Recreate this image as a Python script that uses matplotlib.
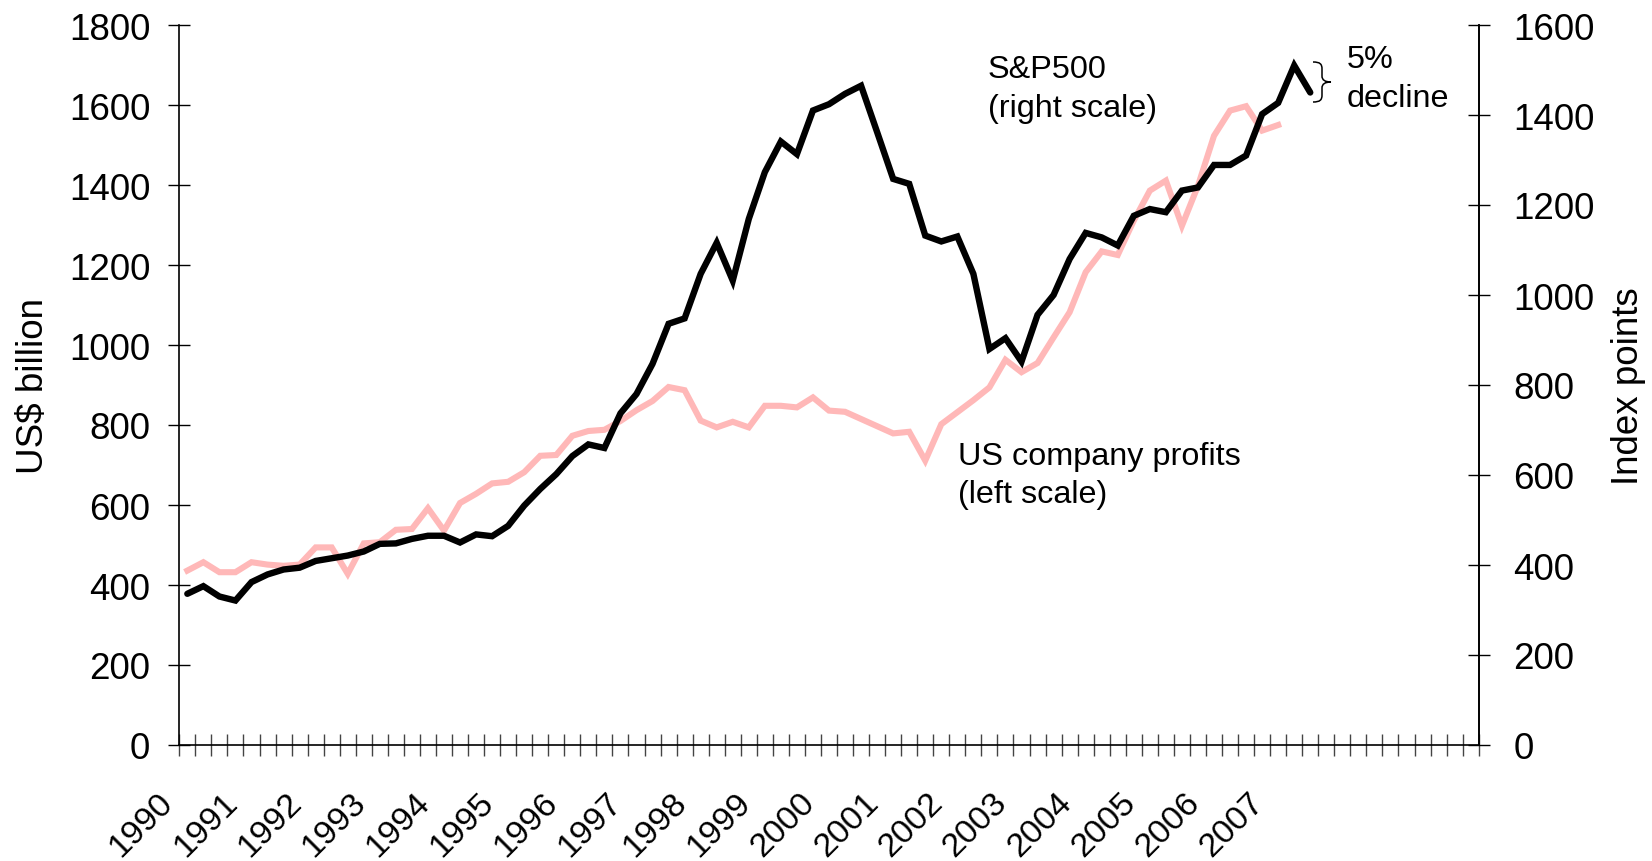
import numpy as np
import matplotlib
matplotlib.use("Agg")
import matplotlib.pyplot as plt
from matplotlib.path import Path
from matplotlib.patches import PathPatch
from matplotlib.transforms import ScaledTranslation

plt.rcParams["font.family"] = ["Liberation Sans", "DejaVu Sans"]

# quarterly data, 1990Q1 onwards
n_quarters = 81  # category slots on the x axis (1990Q1 .. 2010Q1)

year_labels = ["1990", "1991", "1992", "1993", "1994", "1995", "1996", "1997", "1998",
               "1999", "2000", "2001", "2002", "2003", "2004", "2005", "2006", "2007"]

# S&P500 index, right scale (1990Q1 .. 2007Q3)
sp500 = [336, 353, 330, 321, 362, 379, 390, 394, 409, 415,
         421, 430, 447, 448, 458, 465, 465, 450, 468, 464,
         487, 532, 569, 602, 642, 668, 660, 737, 780, 847,
         936, 948, 1047, 1116, 1032, 1169, 1273, 1341, 1313, 1410,
         1424, 1447, 1465, 1362, 1258, 1247, 1132, 1119, 1130, 1047,
         880, 904, 852, 956, 1000, 1080, 1138, 1128, 1110, 1176,
         1191, 1184, 1232, 1239, 1289, 1289, 1310, 1402, 1427, 1510,
         1450]

# US company profits, US$ billion, left scale (1990Q1 .. 2007Q1)
profits = [436, 457, 432, 432, 457, 451, 448, 451, 494, 494,
           428, 504, 507, 538, 540, 592, 536, 605, 628, 654,
           658, 682, 723, 725, 773, 785, 788, 810, 837, 860,
           895, 887, 811, 794, 808, 794, 848, 848, 844, 869,
           836, 833, 815, 797, 779, 783, 711, 802, 832, 862,
           894, 963, 932, 955, 1019, 1082, 1182, 1234, 1225, 1311,
           1386, 1411, 1298, 1398, 1523, 1586, 1597, 1536, 1550]

W, H = 1652, 862
fig = plt.figure(figsize=(W / 100, H / 100), dpi=100)
ax = fig.add_axes([179.3 / W, 116 / H, 1299.4 / W, 720 / H])
ax2 = ax.twinx()

ax.plot(np.arange(len(profits)), profits, color="#ffb8b8", lw=4.4,
        solid_joinstyle="miter")
ax2.plot(np.arange(len(sp500)), sp500, color="black", lw=4.6,
         solid_joinstyle="miter", solid_capstyle="round")

# axes
ax.set_xlim(-0.5, n_quarters - 0.5)
ax.set_ylim(0, 1800)
ax2.set_ylim(0, 1600)
ax.set_yticks(range(0, 1801, 200))
ax2.set_yticks(range(0, 1601, 200))

ax.set_xticks(np.arange(-0.5, n_quarters, 1), minor=True)
ax.set_xticks(np.arange(0, 4 * len(year_labels), 4), year_labels)

for a in (ax, ax2):
    a.spines["top"].set_visible(False)
    for s in a.spines.values():
        s.set_linewidth(1.2)
ax2.spines["left"].set_visible(False)
ax2.spines["bottom"].set_visible(False)

ax.tick_params(axis="x", which="major", length=0, pad=30, labelsize=24.5)
ax.tick_params(axis="x", which="minor", direction="inout", length=16,
               width=1.0, color="#444444")
ax.tick_params(axis="y", direction="inout", length=16, width=1.0,
               labelsize=26.5, pad=13)
ax2.tick_params(axis="y", direction="inout", length=16, width=1.0,
                labelsize=26.5, pad=17)

shift = ScaledTranslation(-0.30, 0, fig.dpi_scale_trans)
for lbl in ax.get_xticklabels():
    lbl.set_rotation(45)
    lbl.set_ha("right")
    lbl.set_va("top")
    lbl.set_rotation_mode("anchor")
    lbl.set_transform(lbl.get_transform() + shift)

# axis titles
fig.text(34 / W, 1 - 386 / H, "US$ billion", rotation=90, ha="center",
         va="center", fontsize=26.5)
fig.text(1628 / W, 1 - 386 / H, "Index points", rotation=90, ha="center",
         va="center", fontsize=26.5)

# annotations (pixel positions of baselines)
def note(x, y, s):
    fig.text(x / W, 1 - y / H, s, ha="left", va="baseline", fontsize=23.3)

note(988, 78, "S&P500")
note(988, 117, "(right scale)")
note(958, 465, "US company profits")
note(958, 503, "(left scale)")
note(1347, 68, "5%")
note(1347, 107, "decline")

# curly brace next to the last two S&P points
pts = [(1313, 63), (1320, 63), (1322, 65), (1322, 70), (1322, 77),
       (1322, 81), (1325, 83), (1331, 83),
       (1325, 83), (1322, 85), (1322, 89), (1322, 96),
       (1322, 101), (1320, 103), (1313, 103)]
codes = [Path.MOVETO, Path.CURVE4, Path.CURVE4, Path.CURVE4, Path.LINETO,
         Path.CURVE4, Path.CURVE4, Path.CURVE4,
         Path.CURVE4, Path.CURVE4, Path.CURVE4, Path.LINETO,
         Path.CURVE4, Path.CURVE4, Path.CURVE4]
brace = Path([(x / W, 1 - y / H) for x, y in pts], codes)
fig.patches.append(PathPatch(brace, transform=fig.transFigure, fill=False,
                             lw=1.1, edgecolor="black"))

fig.savefig("out.png", dpi=100)
